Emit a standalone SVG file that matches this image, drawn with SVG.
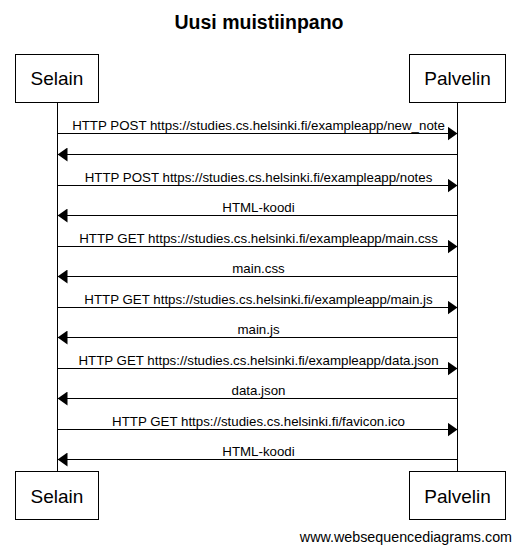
<svg xmlns="http://www.w3.org/2000/svg" width="520" height="554" viewBox="0 0 520 554">
<defs>
<style>
text{font-family:"Liberation Sans",Arial,sans-serif;fill:#000}
.title{font-size:19.5px;font-weight:bold;text-anchor:middle}
.actor rect{fill:#fff;stroke:#000;stroke-width:1}
.actor text{font-size:19px;text-anchor:middle}
.life{stroke:#000;stroke-width:1}
.msg line{stroke:#000;stroke-width:1;marker-end:url(#ah)}
.msg text{font-size:13.3px;text-anchor:middle}
.wm{font-size:14.3px;text-anchor:end}
</style>
<marker id="ah" markerUnits="userSpaceOnUse" markerWidth="10" markerHeight="14" refX="10" refY="7" orient="auto">
<path d="M0,0 L10,7 L0,14 z" fill="#000"/>
</marker>
</defs>
<rect width="520" height="554" fill="#fff"/>
<text class="title" x="259" y="29">Uusi muistiinpano</text>
<g id="lifelines">
<line class="life" x1="57.5" y1="102.5" x2="57.5" y2="471.5"/>
<line class="life" x1="457.5" y1="102.5" x2="457.5" y2="471.5"/>
</g>
<g id="selain-top" class="actor"><rect x="15.5" y="54.5" width="83" height="48"/><text x="57" y="85">Selain</text></g>
<g id="palvelin-top" class="actor"><rect x="409.5" y="54.5" width="96" height="48"/><text x="457.5" y="85">Palvelin</text></g>
<g id="selain-bottom" class="actor"><rect x="15.5" y="471.5" width="83" height="48"/><text x="57" y="502.5">Selain</text></g>
<g id="palvelin-bottom" class="actor"><rect x="409.5" y="471.5" width="96" height="48"/><text x="457.5" y="502.5">Palvelin</text></g>
<g id="connectors" class="msg">
<line x1="57.5" y1="133.5" x2="457.5" y2="133.5"/><text x="258.5" y="130">HTTP POST https://studies.cs.helsinki.fi/exampleapp/new_note</text>
<line x1="457.5" y1="154.5" x2="57.5" y2="154.5"/>
<line x1="57.5" y1="185.5" x2="457.5" y2="185.5"/><text x="258.5" y="182">HTTP POST https://studies.cs.helsinki.fi/exampleapp/notes</text>
<line x1="457.5" y1="215.5" x2="57.5" y2="215.5"/><text x="258.5" y="212">HTML-koodi</text>
<line x1="57.5" y1="246.5" x2="457.5" y2="246.5"/><text x="258.5" y="243">HTTP GET https://studies.cs.helsinki.fi/exampleapp/main.css</text>
<line x1="457.5" y1="276.5" x2="57.5" y2="276.5"/><text x="258.5" y="273">main.css</text>
<line x1="57.5" y1="307.5" x2="457.5" y2="307.5"/><text x="258.5" y="304">HTTP GET https://studies.cs.helsinki.fi/exampleapp/main.js</text>
<line x1="457.5" y1="337.5" x2="57.5" y2="337.5"/><text x="258.5" y="334">main.js</text>
<line x1="57.5" y1="368.5" x2="457.5" y2="368.5"/><text x="258.5" y="365">HTTP GET https://studies.cs.helsinki.fi/exampleapp/data.json</text>
<line x1="457.5" y1="398.5" x2="57.5" y2="398.5"/><text x="258.5" y="395">data.json</text>
<line x1="57.5" y1="429.5" x2="457.5" y2="429.5"/><text x="258.5" y="426">HTTP GET https://studies.cs.helsinki.fi/favicon.ico</text>
<line x1="457.5" y1="459.5" x2="57.5" y2="459.5"/><text x="258.5" y="456">HTML-koodi</text>
</g>
<text class="wm" x="512" y="542">www.websequencediagrams.com</text>
</svg>
